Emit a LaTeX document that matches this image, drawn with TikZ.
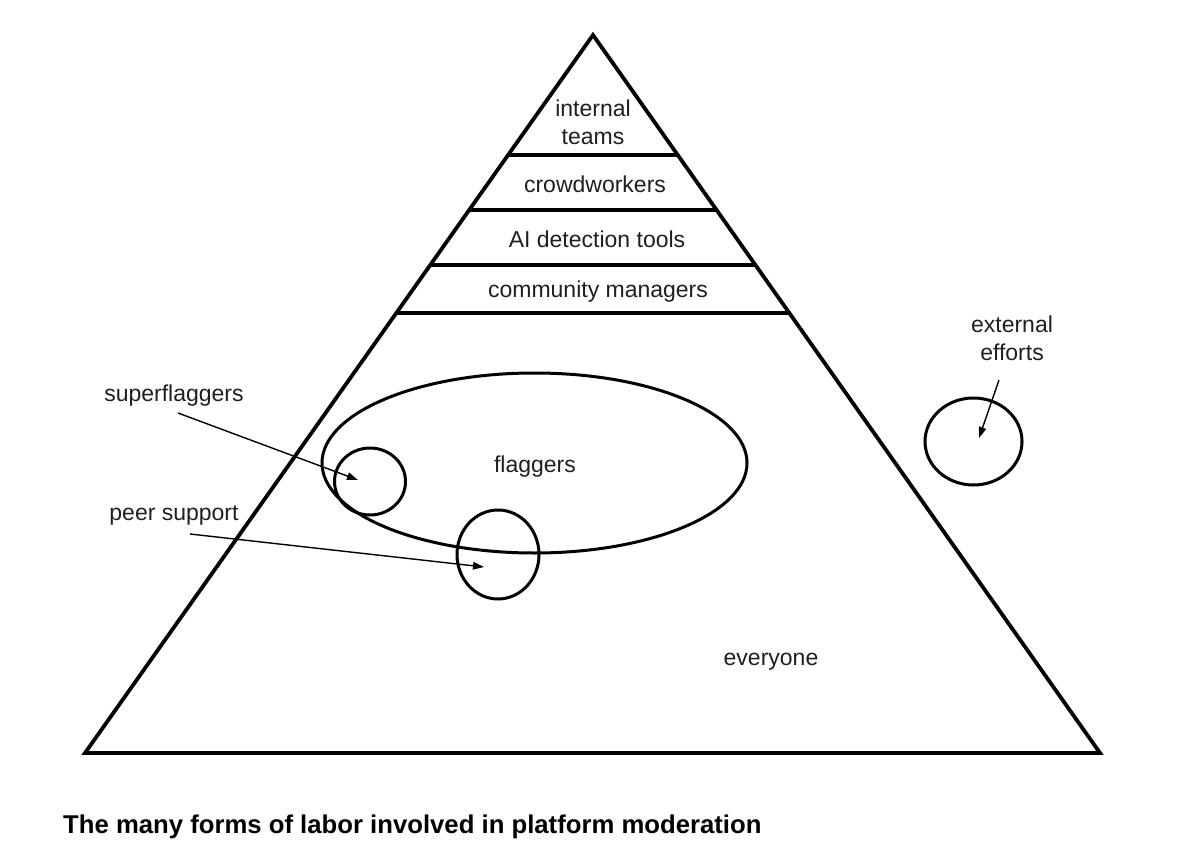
\documentclass[tikz,border=0pt]{standalone}
\usepackage{fontspec}
\setmainfont{Liberation Sans}
\usetikzlibrary{arrows.meta,calc,shapes.geometric}
\begin{document}
\begin{tikzpicture}[x=1pt,y=-1pt,
  lbl/.style={font=\fontsize{23}{28}\selectfont, text=black!88, inner sep=0pt, align=center},
  pyr/.style={line width=3.8pt, line join=miter},
  band/.style={line width=3.3pt},
  ring/.style={draw, ellipse, line width=3pt, inner sep=0pt},
  pointer/.style={line width=1.4pt, -{Triangle[length=11pt,width=7.5pt]}}]
\path[use as bounding box] (0,0) rectangle (1178,864);
% pyramid
\coordinate (A) at (593,35);
\coordinate (BL) at (85,753);
\coordinate (BR) at (1100,753);
\draw[pyr] (A) -- (BL) -- (BR) -- cycle;
\foreach \f/\n in {0.1671/1,0.2437/2,0.3203/3,0.3872/4}{
  \coordinate (L\n) at ($(A)!\f!(BL)$);
  \coordinate (R\n) at ($(A)!\f!(BR)$);
  \draw[band] (L\n) -- (R\n);
}
% tier labels
\node[lbl] (internal) at (593,122) {internal\\teams};
\node[lbl] (crowd) at (595,184) {crowdworkers};
\node[lbl] (ai) at (597,239) {AI detection tools};
\node[lbl] (cm) at (598,292) {community managers};
% ellipses and circles
\node[ring, minimum width=425pt, minimum height=180pt] (flag) at (534.5,463) {};
\node[lbl] (flagtxt) at (535,467) {flaggers};
\node[ring, minimum width=71pt, minimum height=67pt] (super) at (370,481.5) {};
\node[ring, minimum width=82pt, minimum height=89pt] (peer) at (498,554.5) {};
\node[ring, minimum width=97pt, minimum height=87pt] (ext) at (973.5,441.5) {};
% side labels
\node[lbl] (superlbl) at (174,396) {superflaggers};
\node[lbl] (peerlbl) at (174,515) {peer support};
\node[lbl] (extlbl) at (1012,338) {external\\efforts};
\node[lbl] (every) at (771,662) {everyone};
% arrows
\coordinate (s1) at (178,413);
\coordinate (s2) at (358,480);
\coordinate (p1) at (190,534);
\coordinate (p2) at (484,567);
\coordinate (e1) at (999,380);
\coordinate (e2) at (979,438);
\draw[pointer] (s1) -- (s2);
\draw[pointer] (p1) -- (p2);
\draw[pointer] (e1) -- (e2);
% caption
\node[anchor=base west, inner sep=0pt, font=\fontsize{25.7}{30}\selectfont\bfseries] (cap) at (63,833) {The many forms of labor involved in platform moderation};
\end{tikzpicture}
\end{document}
